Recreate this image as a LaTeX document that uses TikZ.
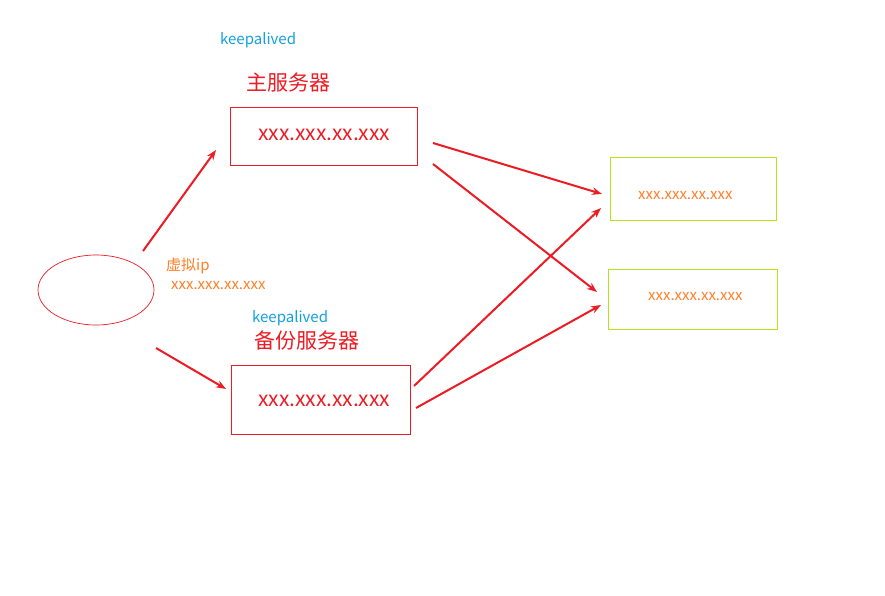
\documentclass[tikz,border=0pt]{standalone}
\usepackage{fontspec}
\newfontfamily\cjk{Noto Sans CJK SC}
\usetikzlibrary{arrows.meta}
\definecolor{myred}{RGB}{237,28,36}
\definecolor{myblue}{RGB}{20,160,225}
\definecolor{myorange}{RGB}{255,127,39}
\definecolor{mygreen}{RGB}{181,230,29}
\tikzset{
  conn/.style={myred, line width=2pt, -{Stealth[length=10pt,width=7.5pt]}},
  lbl/.style={inner sep=0pt, anchor=west, font=\cjk},
}
\begin{document}
\begin{tikzpicture}[x=1pt,y=-1pt]
\useasboundingbox[fill=white] (0,0) rectangle (885,596);
% labels
\node[lbl, text=myblue, font=\cjk\fontsize{15}{15}\selectfont] (k1) at (220,40) {keepalived};
\node[lbl, text=myred, font=\cjk\fontsize{21}{21}\selectfont] (t1) at (246,83) {主服务器};
\node[lbl, text=myblue, font=\cjk\fontsize{15}{15}\selectfont] (k2) at (252,318) {keepalived};
\node[lbl, text=myred, font=\cjk\fontsize{21}{21}\selectfont] (t2) at (254,340) {备份服务器};
\node[lbl, text=myorange, font=\cjk\fontsize{15}{15}\selectfont] (v1) at (166,266) {虚拟ip};
\node[lbl, text=myorange, font=\cjk\fontsize{15}{15}\selectfont] (v2) at (171,286) {xxx.xxx.xx.xxx};
% boxes
\draw[myred, line width=0.8pt] (230,107) rectangle (417,165);
\node[lbl, text=myred, font=\cjk\fontsize{21}{21}\selectfont] (b1) at (258,135) {xxx.xxx.xx.xxx};
\draw[myred, line width=0.8pt] (231,365) rectangle (410,434);
\node[lbl, text=myred, font=\cjk\fontsize{21}{21}\selectfont] (b2) at (258,401) {xxx.xxx.xx.xxx};
\draw[mygreen, line width=1pt] (610,158) rectangle (776,220);
\node[lbl, text=myorange, font=\cjk\fontsize{15}{15}\selectfont] (g1) at (638,196) {xxx.xxx.xx.xxx};
\draw[mygreen, line width=1pt] (608,269) rectangle (777,329);
\node[lbl, text=myorange, font=\cjk\fontsize{15}{15}\selectfont] (g2) at (648,297) {xxx.xxx.xx.xxx};
% ellipse
\draw[myred, line width=0.7pt] (96,290) ellipse [x radius=58, y radius=35];
% connector endpoints
\coordinate (a1s) at (143,251); \coordinate (a1e) at (216,150);
\coordinate (a2s) at (156,348); \coordinate (a2e) at (226,389);
\coordinate (a3s) at (433,143); \coordinate (a3e) at (602,194);
\coordinate (a4s) at (433,164); \coordinate (a4e) at (597,292);
\coordinate (a5s) at (414,386); \coordinate (a5e) at (601,208);
\coordinate (a6s) at (416,408); \coordinate (a6e) at (601,305);
\draw[conn] (a1s) -- (a1e);
\draw[conn] (a2s) -- (a2e);
\draw[conn] (a3s) -- (a3e);
\draw[conn] (a4s) -- (a4e);
\draw[conn] (a5s) -- (a5e);
\draw[conn] (a6s) -- (a6e);
\end{tikzpicture}
\end{document}
